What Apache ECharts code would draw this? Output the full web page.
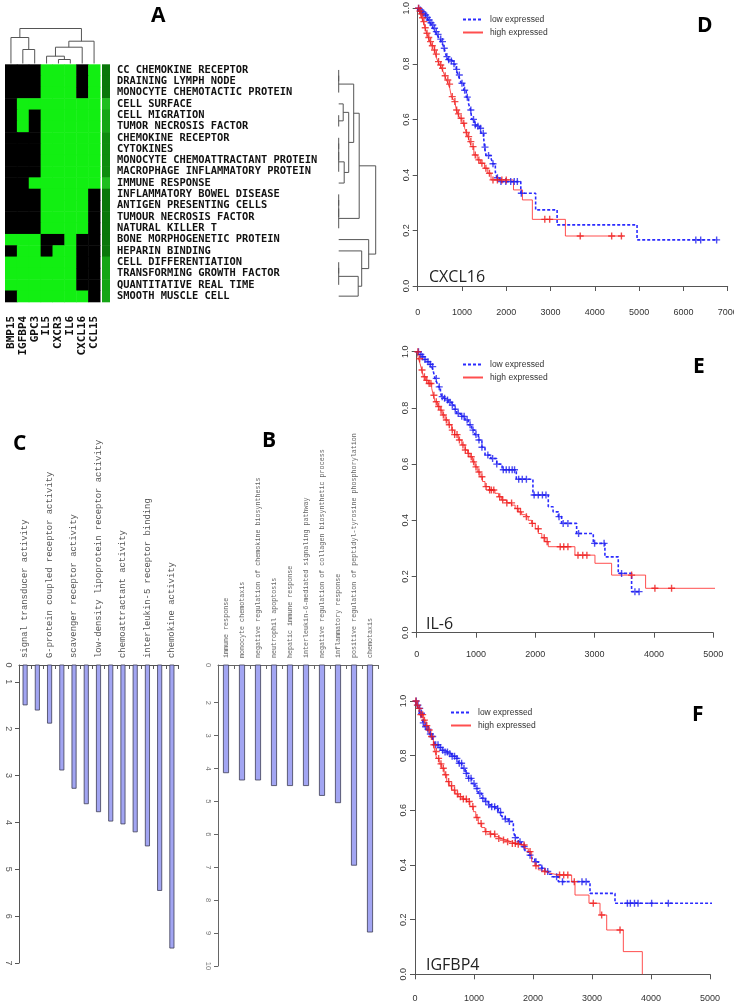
<!DOCTYPE html>
<html><head><meta charset="utf-8">
<script src="https://cdn.jsdelivr.net/npm/echarts@6/dist/echarts.min.js"></script>
<style>html,body{margin:0;padding:0;background:#fff}#c{width:734px;height:1007px}</style>
</head><body><div id="c"></div>
<script>
// ================= Panel A (heatmap) =================
const geneLabels = ['BMP15','IGFBP4','GPC3','IL5','CXCR3','IL6','CXCL16','CCL15'];
const termLabels = ['CC CHEMOKINE RECEPTOR','DRAINING LYMPH NODE','MONOCYTE CHEMOTACTIC PROTEIN','CELL SURFACE','CELL MIGRATION','TUMOR NECROSIS FACTOR','CHEMOKINE RECEPTOR','CYTOKINES','MONOCYTE CHEMOATTRACTANT PROTEIN','MACROPHAGE INFLAMMATORY PROTEIN','IMMUNE RESPONSE','INFLAMMATORY BOWEL DISEASE','ANTIGEN PRESENTING CELLS','TUMOUR NECROSIS FACTOR','NATURAL KILLER T','BONE MORPHOGENETIC PROTEIN','HEPARIN BINDING','CELL DIFFERENTIATION','TRANSFORMING GROWTH FACTOR','QUANTITATIVE REAL TIME','SMOOTH MUSCLE CELL'];
const heatRows = [
  [0,0,0,1,1,1,0,1],[0,0,0,1,1,1,0,1],[0,0,0,1,1,1,0,1],
  [0,1,1,1,1,1,1,1],[0,1,0,1,1,1,1,1],[0,1,0,1,1,1,1,1],
  [0,0,0,1,1,1,1,1],[0,0,0,1,1,1,1,1],[0,0,0,1,1,1,1,1],[0,0,0,1,1,1,1,1],
  [0,0,1,1,1,1,1,1],
  [0,0,0,1,1,1,1,0],[0,0,0,1,1,1,1,0],[0,0,0,1,1,1,1,0],[0,0,0,1,1,1,1,0],
  [1,1,1,0,0,1,0,0],[0,1,1,0,1,1,0,0],
  [1,1,1,1,1,1,0,0],[1,1,1,1,1,1,0,0],[1,1,1,1,1,1,0,0],
  [0,1,1,1,1,1,1,0]
];
const stripLevels = [1,1,1,4,3,3,2,2,2,2,4,1,1,1,1,1,1,3,3,3,3];
// hclust-style merges: negative = leaf (1-based), positive = earlier merge (1-based), height
const colMerge = [[-2,-3,14],[-1,1,26],[-5,-6,4],[-4,3,7.3],[4,-7,16.3],[5,-8,22.3],[2,6,35]];
const rowMerge = [[-1,-2,0],[1,-3,0],[-5,-6,0],[-4,3,4.5],[-7,-8,0],[5,-9,0],[6,-10,0],[7,-11,5.5],
  [4,8,10],[2,9,15],[-12,-13,0],[11,-14,0],[12,-15,0],[10,13,20.5],[-18,-19,0],[15,-20,0],
  [16,-21,19.5],[-17,17,23],[-16,18,30],[14,19,37]];

// ================= Panel C =================
const cTerms = ['signal transducer activity','','G-protein coupled receptor activity','','scavenger receptor activity','','low-density lipoprotein receptor activity','','chemoattractant activity','','interleukin-5 receptor binding','','chemokine activity'];
const cValues = [1.50,1.61,1.89,2.89,3.28,3.61,3.78,3.98,4.04,4.21,4.51,5.46,6.69];
const cTicks = [1,2,3,4,5,6,7];

// ================= Panel B =================
const bTerms = ['immune response','monocyte chemotaxis','negative regulation of chemokine biosynthesis','neutrophil apoptosis','hepatic immune response','interleukin-6-mediated signaling pathway','negative regulation of collagen biosynthetic process','inflammatory response','positive regulation of peptidyl-tyrosine phosphorylation','chemotaxis'];
const bValues = [4.14,4.36,4.36,4.53,4.53,4.53,4.83,5.05,6.95,8.98];
const bTicks = [2,3,4,5,6,7,8,9,10];

// ================= Panels D/E/F (Kaplan-Meier) =================
const dLow = [[0,1],[50,.994],[90,.988],[130,.982],[164,.976],[200,.967],[239,.958],[280,.948],[313,.94],[350,.928],[388,.916],[430,.906],[463,.898],[500,.889],[537,.88],[570,.868],[597,.856],[625,.84],[649,.826],[680,.815],[740,.81],[800,.8],[836,.796],[870,.78],[910,.76],[950,.745],[985,.73],[1040,.705],[1097,.68],[1150,.655],[1194,.634],[1223,.60],[1283,.58],[1340,.575],[1395,.568],[1432,.55],[1492,.53],[1507,.50],[1544,.47],[1656,.46],[1693,.44],[1753,.41],[1790,.39],[1843,.376],[2328,.334],[2663,.274],[3148,.22],[4953,.166],[6766,.166]];
const dHigh = [[0,1],[30,.99],[52,.98],[90,.966],[127,.952],[165,.93],[201,.91],[240,.895],[276,.88],[320,.865],[373,.85],[400,.835],[425,.82],[460,.808],[500,.796],[540,.784],[574,.772],[610,.757],[649,.742],[690,.727],[724,.712],[761,.682],[800,.673],[836,.664],[873,.634],[910,.62],[948,.604],[1000,.586],[1059,.568],[1100,.553],[1134,.538],[1170,.52],[1209,.502],[1268,.472],[1343,.454],[1417,.442],[1507,.424],[1582,.406],[1656,.382],[2163,.346],[2365,.31],[2589,.24],[3335,.18],[4640,.18]];
const dLowCens = [20,60,100,140,180,220,260,300,340,380,420,460,520,560,600,660,700,760,820,880,940,1000,1060,1120,1200,1260,1300,1360,1420,1480,1520,1600,1700,1800,1880,1990,2100,2180,2250,2340,6280,6390,6750];
const dHighCens = [20,50,80,110,140,170,210,250,290,330,380,420,470,520,560,620,680,720,780,840,880,920,980,1040,1100,1150,1200,1250,1300,1380,1450,1540,1620,1700,1800,1900,2000,2870,2980,3670,4380,4600];

const eLow = [[0,1],[40,.99],[84,.982],[130,.972],[169,.964],[210,.955],[253,.947],[280,.93],[309,.905],[340,.89],[365,.875],[400,.855],[421,.84],[450,.834],[478,.828],[530,.82],[590,.81],[630,.795],[674,.78],[740,.77],[815,.757],[870,.74],[927,.721],[980,.705],[1039,.686],[1100,.66],[1152,.632],[1250,.62],[1350,.6],[1440,.58],[1680,.546],[1960,.49],[2219,.448],[2300,.43],[2388,.413],[2444,.389],[2697,.353],[2978,.318],[3174,.27],[3399,.211],[3624,.146],[3764,.146]];
const eHigh = [[0,1],[30,.975],[56,.958],[85,.935],[112,.911],[150,.898],[197,.887],[253,.87],[280,.845],[309,.822],[350,.805],[393,.792],[430,.775],[478,.757],[530,.74],[590,.721],[640,.705],[702,.686],[760,.668],[815,.65],[860,.638],[899,.626],[940,.608],[983,.59],[1030,.572],[1067,.555],[1110,.538],[1152,.52],[1230,.508],[1320,.496],[1380,.484],[1433,.472],[1520,.462],[1601,.454],[1660,.442],[1713,.43],[1770,.42],[1826,.413],[1880,.4],[1938,.389],[2000,.37],[2051,.353],[2110,.338],[2163,.324],[2219,.306],[2668,.276],[3006,.247],[3287,.205],[3860,.158],[5309,0]];
const eLowCens = [30,70,100,140,190,230,270,330,380,430,470,520,560,600,650,700,760,800,850,900,950,1000,1050,1100,1200,1280,1350,1460,1510,1560,1610,1650,1720,1780,1850,1980,2050,2120,2180,2400,2470,2550,2730,3000,3160,3455,3680,3750];
const eHighCens = [20,50,90,130,170,210,240,290,330,370,410,450,500,550,600,640,680,720,780,820,870,920,960,1000,1050,1100,1170,1230,1260,1300,1400,1450,1520,1600,1700,1750,1850,1950,2050,2150,2200,2420,2480,2550,2720,2800,2870,3624,4017,4298];

const fLow = [[0,1],[30,.985],[56,.973],[85,.955],[113,.937],[140,.92],[169,.906],[200,.897],[226,.888],[255,.879],[282,.87],[310,.855],[339,.84],[400,.83],[452,.82],[510,.813],[565,.807],[620,.798],[678,.79],[735,.772],[791,.754],[850,.735],[904,.717],[960,.698],[1017,.68],[1070,.662],[1130,.644],[1190,.632],[1243,.62],[1300,.613],[1356,.607],[1410,.592],[1469,.577],[1530,.568],[1582,.559],[1667,.522],[1700,.5],[1751,.485],[1800,.467],[1864,.449],[1920,.436],[1977,.424],[2030,.412],[2090,.4],[2150,.388],[2203,.376],[2260,.366],[2316,.357],[2429,.339],[2966,.296],[3390,.26],[5282,0]];
const fHigh = [[0,1],[30,.985],[56,.973],[100,.95],[141,.93],[185,.91],[226,.894],[270,.87],[311,.84],[340,.815],[367,.79],[410,.77],[452,.754],[495,.73],[537,.705],[580,.69],[621,.674],[680,.66],[734,.65],[800,.641],[876,.632],[930,.614],[989,.595],[1030,.574],[1073,.552],[1130,.537],[1186,.522],[1270,.513],[1356,.504],[1410,.497],[1469,.491],[1550,.485],[1638,.479],[1720,.476],[1808,.473],[1870,.46],[1921,.449],[1977,.412],[2030,.397],[2090,.382],[2150,.376],[2203,.37],[2290,.366],[2373,.363],[2655,.339],[2712,.29],[2949,.26],[3136,.217],[3249,.162],[3531,.083],[3853,0]];
const fLowCens = [20,50,80,110,140,180,220,260,300,350,390,430,470,510,550,590,630,670,710,750,790,830,870,910,950,1000,1050,1100,1150,1200,1250,1300,1350,1400,1450,1530,1600,1700,1780,1850,1950,2050,2150,2250,2400,2500,2830,2900,3600,3650,3720,3780,4011,4294];
const fHighCens = [15,40,70,100,130,160,200,240,280,320,360,400,440,480,520,570,620,670,720,770,820,870,920,980,1050,1120,1200,1280,1350,1420,1500,1570,1650,1700,1750,1850,1950,2050,2200,2450,2520,2590,2700,3022,3164,3475];

// ================= helpers =================
function dendroLinks(merge) {
  const pos = [], ht = [], links = [];
  const P = k => k < 0 ? (-k - 1) + 0.5 : pos[k - 1];
  const H = k => k < 0 ? 0 : ht[k - 1];
  merge.forEach(([a, b, h]) => {
    const pa = P(a), pb = P(b);
    links.push([[pa, H(a)], [pa, h], [pb, h], [pb, H(b)]]);
    pos.push((pa + pb) / 2); ht.push(h);
  });
  return links;
}
function survAt(curve, t) { let s = 1; for (const [ct, cs] of curve) { if (ct <= t) s = cs; else break; } return s; }

const GREEN = '#12ef12', BLACK = '#000000';
const stripPalette = ['#0a770a', '#0e8d0e', '#15a515', '#1fbe1f'];
const PLUS = 'path://M4,0h2v4h4v2h-4v4h-2v-4h-4v-2h4z';
const BLUE = '#2b2bff', RED = '#ff3030';

const heatData = [];
heatRows.forEach((r, i) => r.forEach((v, j) => heatData.push([j, i, v])));
const stripData = stripLevels.map((v, i) => [0, i, v]);

const colLinks = dendroLinks(colMerge).map(c => ({ coords: c }));
const rowLinks = dendroLinks(rowMerge).map(c => ({ coords: c.map(([p, h]) => [h, p]) }));

const axisGray = '#555';
function kmX(grid, max, offset, margin) {
  return { gridIndex: grid, type: 'value', min: 0, max: max, interval: 1000, offset: offset,
    axisLine: { show: true, lineStyle: { color: axisGray, width: 1 } },
    axisTick: { show: true, length: 5, lineStyle: { color: axisGray } },
    axisLabel: { fontSize: 9, color: '#333', fontFamily: 'Liberation Sans', margin: margin, formatter: v => String(v),
      alignMinLabel: 'center', alignMaxLabel: 'center' },
    splitLine: { show: false } };
}
function kmY(grid) {
  return { gridIndex: grid, type: 'value', min: 0, max: 1, interval: 0.2,
    axisLine: { show: true, lineStyle: { color: axisGray, width: 1 } },
    axisTick: { show: true, length: 5, lineStyle: { color: axisGray } },
    axisLabel: { fontSize: 9, color: '#333', fontFamily: 'Liberation Sans', rotate: 90, margin: 7, formatter: v => v.toFixed(1) },
    splitLine: { show: false } };
}
function kmSeries(ax, low, high, lowC, highC) {
  return [
    { type: 'line', name: 'low expressed', xAxisIndex: ax, yAxisIndex: ax, data: low, step: 'end', symbol: 'none', clip: false,
      lineStyle: { color: BLUE, width: 1.6, type: [3, 2] }, itemStyle: { color: BLUE }, z: 3 },
    { type: 'line', name: 'high expressed', xAxisIndex: ax, yAxisIndex: ax, data: high, step: 'end', symbol: 'none', clip: false,
      lineStyle: { color: RED, width: 1, type: 'solid', opacity: 0.85 }, itemStyle: { color: RED }, z: 3 },
    { type: 'scatter', name: 'low censored', xAxisIndex: ax, yAxisIndex: ax, clip: false, symbol: PLUS, symbolSize: 7,
      data: lowC.map(t => [t, survAt(low, t)]), itemStyle: { color: '#2020ee' }, z: 4, silent: true },
    { type: 'scatter', name: 'high censored', xAxisIndex: ax, yAxisIndex: ax, clip: false, symbol: PLUS, symbolSize: 7,
      data: highC.map(t => [t, survAt(high, t)]), itemStyle: { color: '#ee1c1c' }, z: 4, silent: true }
  ];
}
function legendAt(left, top) {
  return { data: ['low expressed', 'high expressed'], left: left, top: top, orient: 'vertical', padding: 0,
    itemWidth: 20, itemHeight: 8, itemGap: 4, selectedMode: false,
    itemStyle: { opacity: 0, borderWidth: 0 },
    textStyle: { fontSize: 8.5, color: '#333', fontFamily: 'Liberation Sans', padding: [0, 0, 0, 2] } };
}
const OB = { outerBoundsMode: 'none' };

const option = {
  animation: false,
  backgroundColor: '#fff',
  grid: [
    Object.assign({ left: 5, top: 28.5, width: 95, height: 35 }, OB),          // 0 column dendrogram
    Object.assign({ left: 5, top: 64.3, width: 95, height: 237.5 }, OB),       // 1 heatmap
    Object.assign({ left: 102, top: 64.3, width: 8, height: 237.5 }, OB),      // 2 strip
    Object.assign({ left: 338.7, top: 64.3, width: 38, height: 237.5 }, OB),   // 3 row dendrogram
    Object.assign({ left: 19, top: 665, width: 159, height: 298 }, OB),        // 4 panel C
    Object.assign({ left: 218, top: 665, width: 160, height: 301 }, OB),       // 5 panel B
    Object.assign({ left: 417.7, top: 8.3, width: 310, height: 277.7 }, OB),   // 6 panel D
    Object.assign({ left: 416.7, top: 351.7, width: 296.5, height: 281 }, OB), // 7 panel E
    Object.assign({ left: 415, top: 701, width: 295, height: 273.3 }, OB)      // 8 panel F
  ],
  xAxis: [
    { gridIndex: 0, type: 'value', min: 0, max: 8, show: false },
    { gridIndex: 1, type: 'category', data: geneLabels, position: 'bottom',
      axisLine: { show: false }, axisTick: { show: false },
      axisLabel: { rotate: 90, interval: 0, margin: 14, fontFamily: 'DejaVu Sans Mono', fontWeight: 'bold', fontSize: 11, color: '#111' } },
    { gridIndex: 2, type: 'category', data: [''], show: false },
    { gridIndex: 3, type: 'value', min: 0, max: 38, show: false },
    { gridIndex: 4, type: 'category', data: cTerms, position: 'top',
      axisLine: { show: true, lineStyle: { color: axisGray } }, axisTick: { show: true, inside: true, length: 4, lineStyle: { color: axisGray } },
      axisLabel: { rotate: -90, interval: 0, margin: 7, fontFamily: 'Liberation Mono', fontSize: 8.9, color: '#555' } },
    { gridIndex: 5, type: 'category', data: bTerms, position: 'top',
      axisLine: { show: true, lineStyle: { color: '#666' } }, axisTick: { show: true, inside: true, length: 4, lineStyle: { color: '#666' } },
      axisLabel: { rotate: -90, interval: 0, margin: 7, fontFamily: 'Liberation Mono', fontSize: 6.7, color: '#666' } },
    kmX(6, 7000, 10, 12),
    kmX(7, 5000, 11.3, 6),
    kmX(8, 5000, 10, 10)
  ],
  yAxis: [
    { gridIndex: 0, type: 'value', min: 0, max: 35, show: false },
    { gridIndex: 1, type: 'category', data: termLabels, inverse: true, show: false },
    { gridIndex: 2, type: 'category', data: termLabels, inverse: true, position: 'right',
      axisLine: { show: false }, axisTick: { show: false },
      axisLabel: { interval: 0, margin: 7, fontFamily: 'DejaVu Sans Mono', fontWeight: 'bold', fontSize: 10.4, color: '#111' } },
    { gridIndex: 3, type: 'value', min: 0, max: 21, inverse: true, show: false },
    { gridIndex: 4, type: 'value', min: 0.64, max: 7, inverse: true,
      axisLine: { show: true, lineStyle: { color: axisGray } },
      axisTick: { show: true, length: 4, customValues: cTicks, lineStyle: { color: axisGray } },
      axisLabel: { rotate: -90, margin: 6, fontSize: 9, color: '#555', fontFamily: 'Liberation Sans',
        customValues: [0.64].concat(cTicks), formatter: v => (v < 0.9 ? '0' : String(Math.round(v))) },
      splitLine: { show: false } },
    { gridIndex: 5, type: 'value', min: 0.854, max: 10, inverse: true,
      axisLine: { show: true, lineStyle: { color: '#666' } },
      axisTick: { show: true, length: 4, customValues: bTicks, lineStyle: { color: '#666' } },
      axisLabel: { rotate: -90, margin: 6, fontSize: 7.5, color: '#777', fontFamily: 'Liberation Sans',
        customValues: [0.854].concat(bTicks), formatter: v => (v < 1 ? '0' : String(Math.round(v))) },
      splitLine: { show: false } },
    kmY(6), kmY(7), kmY(8)
  ],
  legend: [legendAt(462, 15), legendAt(462, 360), legendAt(450, 708)],
  graphic: [
    { type: 'text', left: 151, top: 6, style: { text: 'A', font: 'bold 21px "Open Sans"', fill: '#000' } },
    { type: 'text', left: 13, top: 434, style: { text: 'C', font: 'bold 21px "Open Sans"', fill: '#000' } },
    { type: 'text', left: 262, top: 431, style: { text: 'B', font: 'bold 21px "Open Sans"', fill: '#000' } },
    { type: 'text', left: 697, top: 16, style: { text: 'D', font: 'bold 21px "Open Sans"', fill: '#000' } },
    { type: 'text', left: 693, top: 357, style: { text: 'E', font: 'bold 21px "Open Sans"', fill: '#000' } },
    { type: 'text', left: 692, top: 705, style: { text: 'F', font: 'bold 21px "Open Sans"', fill: '#000' } },
    { type: 'text', left: 429, top: 269, style: { text: 'CXCL16', font: '16px "Open Sans"', fill: '#222' } },
    { type: 'text', left: 426, top: 616, style: { text: 'IL-6', font: '16px "Open Sans"', fill: '#222' } },
    { type: 'text', left: 426, top: 957, style: { text: 'IGFBP4', font: '16px "Open Sans"', fill: '#222' } }
  ],
  series: [
    { type: 'lines', coordinateSystem: 'cartesian2d', xAxisIndex: 0, yAxisIndex: 0, polyline: true, silent: true,
      data: colLinks, lineStyle: { color: '#555', width: 1, opacity: 1 } },
    { type: 'custom', xAxisIndex: 1, yAxisIndex: 1, data: heatData, encode: { x: 0, y: 1 }, silent: true,
      renderItem: (params, api) => {
        const c = api.coord([api.value(0), api.value(1)]);
        const s = api.size([1, 1]);
        return { type: 'rect', shape: { x: c[0] - s[0] / 2, y: c[1] - s[1] / 2, width: s[0] + 0.5, height: s[1] + 0.5 },
          style: { fill: api.value(2) ? GREEN : BLACK } };
      } },
    { type: 'custom', xAxisIndex: 2, yAxisIndex: 2, data: stripData, encode: { x: 0, y: 1 }, silent: true,
      renderItem: (params, api) => {
        const c = api.coord([api.value(0), api.value(1)]);
        const s = api.size([1, 1]);
        return { type: 'rect', shape: { x: c[0] - s[0] / 2, y: c[1] - s[1] / 2, width: s[0], height: s[1] + 0.5 },
          style: { fill: stripPalette[api.value(2) - 1] } };
      } },
    { type: 'lines', coordinateSystem: 'cartesian2d', xAxisIndex: 3, yAxisIndex: 3, polyline: true, silent: true,
      data: rowLinks, lineStyle: { color: '#555', width: 1, opacity: 1 } },
    { type: 'bar', xAxisIndex: 4, yAxisIndex: 4, data: cValues, barWidth: 5,
      itemStyle: { color: '#a2a5f2', borderColor: '#3d3d55', borderWidth: 0.8 } },
    { type: 'bar', xAxisIndex: 5, yAxisIndex: 5, data: bValues, barWidth: 6,
      itemStyle: { color: '#a2a5f2', borderColor: '#3d3d55', borderWidth: 0.8 } }
  ].concat(kmSeries(6, dLow, dHigh, dLowCens, dHighCens))
   .concat(kmSeries(7, eLow, eHigh, eLowCens, eHighCens))
   .concat(kmSeries(8, fLow, fHigh, fLowCens, fHighCens))
};

const chart = echarts.init(document.getElementById('c'), null, { renderer: 'canvas', width: 734, height: 1007 });
chart.setOption(option);
</script>
</body></html>
